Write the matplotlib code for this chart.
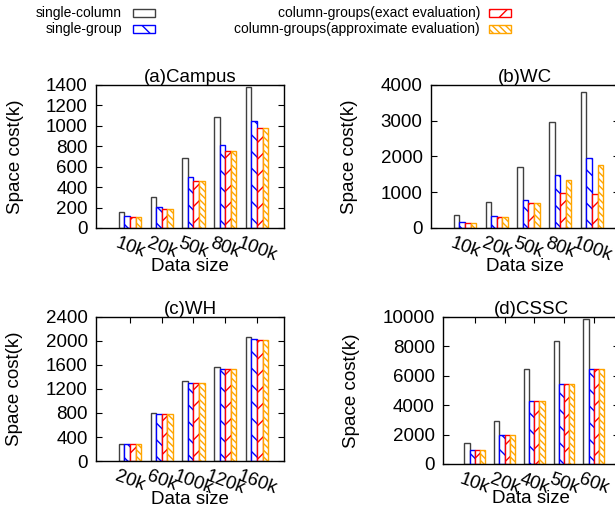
import matplotlib
matplotlib.use("Agg")
import matplotlib.pyplot as plt
from matplotlib.patches import Rectangle
import numpy as np

plt.rcParams['font.family'] = ['Liberation Sans', 'DejaVu Sans']
plt.rcParams['hatch.linewidth'] = 1.0

# series names and styles
series_names = ["single-column", "single-group",
                "column-groups(exact evaluation)",
                "column-groups(approximate evaluation)"]
edge_colors = ["#404040", "#0000ff", "#ff0000", "#ffa500"]
hatches = ["", "\\\\", "//", "\\\\\\\\\\"]

# (a) Campus
campus_sizes = ["10k", "20k", "50k", "80k", "100k"]
campus_single_column = [160, 300, 687, 1087, 1377]
campus_single_group = [114, 208, 501, 814, 1045]
campus_exact = [104, 186, 462, 755, 977]
campus_approx = [104, 186, 462, 755, 977]

# (b) WC
wc_sizes = ["10k", "20k", "50k", "80k", "100k"]
wc_single_column = [363, 725, 1720, 2958, 3795]
wc_single_group = [167, 344, 790, 1479, 1953]
wc_exact = [149, 316, 697, 977, 958]
wc_approx = [149, 316, 707, 1349, 1758]

# (c) WH
wh_sizes = ["20k", "60k", "100k", "120k", "160k"]
wh_single_column = [289, 806, 1328, 1572, 2067]
wh_single_group = [289, 789, 1306, 1539, 2028]
wh_exact = [283, 789, 1294, 1539, 2017]
wh_approx = [283, 789, 1294, 1539, 2017]

# (d) CSSC
cssc_sizes = ["10k", "20k", "40k", "50k", "60k"]
cssc_single_column = [1427, 2899, 6455, 8358, 9830]
cssc_single_group = [951, 1970, 4258, 5459, 6455]
cssc_exact = [951, 1970, 4258, 5459, 6455]
cssc_approx = [951, 1970, 4258, 5459, 6455]

fig = plt.figure(figsize=(6.15, 5.12), dpi=100)

panels = [
    ("(a)Campus", campus_sizes,
     [campus_single_column, campus_single_group, campus_exact, campus_approx],
     1400, 200, [0.1561, 0.5547, 0.3057, 0.2793], False),
    ("(b)WC", wc_sizes,
     [wc_single_column, wc_single_group, wc_exact, wc_approx],
     4000, 1000, [0.7008, 0.5547, 0.3057, 0.2793], False),
    ("(c)WH", wh_sizes,
     [wh_single_column, wh_single_group, wh_exact, wh_approx],
     2400, 400, [0.1561, 0.0996, 0.3057, 0.2813], True),
    ("(d)CSSC", cssc_sizes,
     [cssc_single_column, cssc_single_group, cssc_exact, cssc_approx],
     10000, 2000, [0.7203, 0.0938, 0.2862, 0.2871], True),
]

bw = 0.175
for title, sizes, vals, ymax, ystep, pos, top_ticks in panels:
    ax = fig.add_axes(pos)
    x = np.arange(len(sizes))
    for i, v in enumerate(vals):
        ax.bar(x + (i - 1.5) * bw, v, width=bw, facecolor="white",
               edgecolor=edge_colors[i], hatch=hatches[i], linewidth=1.0)
    ax.set_xlim(-1.07, 4.85)
    ax.set_ylim(0, ymax)
    ax.set_yticks(np.arange(0, ymax + 1, ystep))
    ax.set_xticks(x)
    ax.set_xticklabels(sizes, rotation=-20, ha="center", va="top",
                       fontsize=13.5)
    ax.tick_params(axis="y", direction="in", length=4, right=True,
                   labelsize=13.5, pad=6)
    ax.tick_params(axis="x", direction="in", length=4, bottom=False,
                   top=top_ticks, pad=5)
    ax.set_title(title, fontsize=13.5, pad=2)
    ax.set_xlabel("Data size", fontsize=13.5, labelpad=-5)
    ax.set_ylabel("Space cost(k)", fontsize=13.5, labelpad=16)
    for s in ax.spines.values():
        s.set_linewidth(1.0)

# legend drawn at the top of the figure
W, H = 615.0, 512.0
leg_text_x = [122, 122, 480, 480]
leg_box_x = [133, 133, 489, 489]
leg_y = [13, 29, 13, 29]
for i, name in enumerate(series_names):
    fig.text(leg_text_x[i] / W, 1 - leg_y[i] / H, name, ha="right",
             va="center", fontsize=10)
    fig.add_artist(Rectangle((leg_box_x[i] / W, 1 - (leg_y[i] + 4) / H),
                             22 / W, 8 / H, transform=fig.transFigure,
                             facecolor="white", edgecolor=edge_colors[i],
                             hatch=hatches[i], linewidth=1.0))

fig.savefig("out.png", dpi=100)
